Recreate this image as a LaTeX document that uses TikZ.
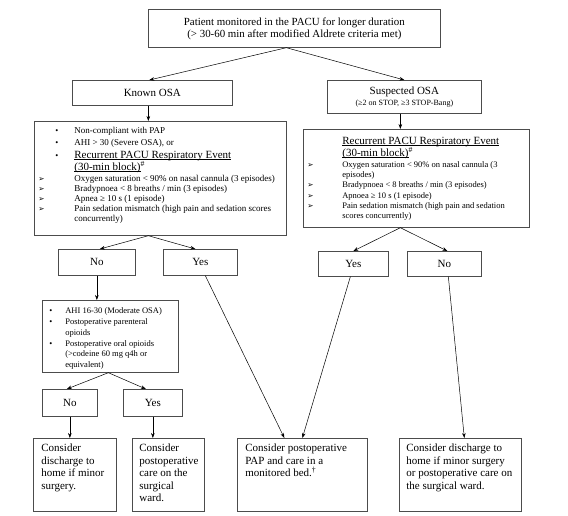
\documentclass[tikz,border=0pt]{standalone}
\usepackage{fontspec}
\setmainfont{Liberation Serif}
\newfontfamily\djv{DejaVu Sans}
\usetikzlibrary{arrows.meta}
\definecolor{boxc}{gray}{0.3}
\newcommand\Lyn[3]{{\fontsize{#1}{#2}\selectfont\noindent\mbox{#3}\par}}
\newcommand\amark{{\djv\fontsize{7.5}{7.5}\selectfont ➢}}
\newcommand\bul{{\fontsize{8.5}{10}\selectfont •}}
\newcommand\Ul[1]{\setbox0=\hbox{#1}\rlap{\rule[-1.6pt]{\wd0}{0.5pt}}\box0}
\newcommand\Pbox[3]{\parbox[c][#2][t]{#1}{\lineskiplimit=-100pt\parskip=0pt #3}}
\tikzset{
  bx/.style={draw=boxc, line width=0.7pt, inner sep=0pt, anchor=north west},
  cbx/.style={bx, align=center, font={\fontsize{11}{12}\selectfont}},
  arr/.style={-{Stealth[length=5pt,width=3.6pt]}, line width=0.5pt, black},
}
\begin{document}
\begin{tikzpicture}[x=1pt,y=-1pt]
\useasboundingbox[fill=white] (0,0) rectangle (568,516);

% top
\node[cbx, minimum width=292pt, minimum height=38pt, font={\fontsize{10.9}{12}\selectfont}] (top) at (148,9)
  {Patient monitored in the PACU for longer duration\\(> 30-60 min after modified Aldrete criteria met)};
\node[cbx, minimum width=160pt, minimum height=25pt] (kosa) at (72,80) {Known OSA};
\node[cbx, minimum width=154pt, minimum height=33pt] (sosa) at (327,80)
  {Suspected OSA\\[-1pt]{\fontsize{8}{10}\selectfont (≥2 on STOP, ≥3 STOP-Bang)}};

% left bullet box
\node[bx] (lb) at (34,121) {\Pbox{252pt}{114pt}{%
\Lyn{9}{12}{\rule{0pt}{12pt}\hspace*{21pt}\makebox[19pt][l]{\bul}Non-compliant with PAP}
\Lyn{9}{12}{\hspace*{21pt}\makebox[19pt][l]{\bul}AHI > 30 (Severe OSA), or}
\Lyn{11}{13}{\hspace*{21pt}\makebox[19pt][l]{\bul}\Ul{Recurrent PACU Respiratory Event}}
\Lyn{11}{12}{\hspace*{40pt}\Ul{(30-min block)}\textsuperscript{\#}}
\Lyn{9}{11.5}{\hspace*{4pt}\makebox[36pt][l]{\amark}Oxygen saturation < 90\% on nasal cannula (3 episodes)}
\Lyn{9}{10}{\hspace*{4pt}\makebox[36pt][l]{\amark}Bradypnoea < 8 breaths / min (3 episodes)}
\Lyn{9}{10}{\hspace*{4pt}\makebox[36pt][l]{\amark}Apnea ≥ 10 s (1 episode)}
\Lyn{9}{10}{\hspace*{4pt}\makebox[36pt][l]{\amark}Pain sedation mismatch (high pain and sedation scores}
\Lyn{9}{10}{\hspace*{40pt}concurrently)}}};

% right bullet box
\node[bx] (rb) at (303,129) {\Pbox{226pt}{98pt}{%
\Lyn{11}{13}{\rule{0pt}{15pt}\hspace*{39pt}\Ul{Recurrent PACU Respiratory Event}}
\Lyn{11}{12}{\hspace*{39pt}\Ul{(30-min block)}\textsuperscript{\#}}
\Lyn{8.5}{11}{\hspace*{4pt}\makebox[35pt][l]{\amark}Oxygen saturation < 90\% on nasal cannula (3}
\Lyn{8.5}{10}{\hspace*{39pt}episodes)}
\Lyn{8.5}{10.5}{\hspace*{4pt}\makebox[35pt][l]{\amark}Bradypnoea < 8 breaths / min (3 episodes)}
\Lyn{8.5}{10.5}{\hspace*{4pt}\makebox[35pt][l]{\amark}Apnoea ≥ 10 s (1 episode)}
\Lyn{8.5}{10.5}{\hspace*{4pt}\makebox[35pt][l]{\amark}Pain sedation mismatch (high pain and sedation}
\Lyn{8.5}{10}{\hspace*{39pt}scores concurrently)}}};

% yes/no row 1
\node[cbx, minimum width=77pt, minimum height=26pt] (n1) at (58,249) {No};
\node[cbx, minimum width=74pt, minimum height=26pt] (y1) at (163,249) {Yes};
\node[cbx, minimum width=70pt, minimum height=25pt] (y2) at (318,251) {Yes};
\node[cbx, minimum width=74pt, minimum height=25pt] (n2) at (407,251) {No};

% moderate box
\node[bx] (mod) at (42,300) {\Pbox{136pt}{72pt}{%
\Lyn{8.5}{11}{\rule{0pt}{13pt}\hspace*{7pt}\makebox[16pt][l]{\bul}AHI 16-30 (Moderate OSA)}
\Lyn{8.5}{11}{\hspace*{7pt}\makebox[16pt][l]{\bul}Postoperative parenteral}
\Lyn{8.5}{11}{\hspace*{23pt}opioids}
\Lyn{8.5}{11}{\hspace*{7pt}\makebox[16pt][l]{\bul}Postoperative oral opioids}
\Lyn{8.5}{10.5}{\hspace*{23pt}(>codeine 60 mg q4h or}
\Lyn{8.5}{10.5}{\hspace*{23pt}equivalent)}}};

\node[cbx, minimum width=55pt, minimum height=27pt] (n3) at (42,389) {No};
\node[cbx, minimum width=59pt, minimum height=27pt] (y3) at (123,389) {Yes};

% bottom boxes
\node[bx] (A) at (33,438) {\Pbox{83pt}{73pt}{%
\Lyn{11}{12.5}{\rule{0pt}{13.5pt}\hspace*{8pt}Consider}
\Lyn{11}{12.5}{\hspace*{8pt}discharge to}
\Lyn{11}{12.5}{\hspace*{8pt}home if minor}
\Lyn{11}{12.5}{\hspace*{8pt}surgery.}}};
\node[bx] (B) at (132,438) {\Pbox{72pt}{73pt}{%
\Lyn{11}{12.5}{\rule{0pt}{13.5pt}\hspace*{7pt}Consider}
\Lyn{11}{12.5}{\hspace*{7pt}postoperative}
\Lyn{11}{12.5}{\hspace*{7pt}care on the}
\Lyn{11}{12.5}{\hspace*{7pt}surgical}
\Lyn{11}{12.5}{\hspace*{7pt}ward.}}};
\node[bx] (C) at (237,438) {\Pbox{130pt}{73pt}{%
\Lyn{11}{12.5}{\rule{0pt}{13.5pt}\hspace*{8pt}Consider postoperative}
\Lyn{11}{12.5}{\hspace*{8pt}PAP and care in a}
\Lyn{11}{12.5}{\hspace*{8pt}monitored bed.\textsuperscript{†}}}};
\node[bx] (D) at (399,438) {\Pbox{122pt}{73pt}{%
\Lyn{11}{12.5}{\rule{0pt}{13.5pt}\hspace*{7pt}Consider discharge to}
\Lyn{11}{12.5}{\hspace*{7pt}home if minor surgery}
\Lyn{11}{12.5}{\hspace*{7pt}or postoperative care on}
\Lyn{11}{12.5}{\hspace*{7pt}the surgical ward.}}};

% connectors
\coordinate (t0) at ([xshift=-8pt]top.south);
\draw[arr] (t0) -- ([xshift=-3pt]kosa.north);
\draw[arr] (t0) -- (sosa.north);
\coordinate (k1) at ([xshift=-4pt]kosa.south);
\draw[arr] (k1) -- (k1 |- lb.north);
\coordinate (s1) at ([xshift=-4pt]sosa.south);
\draw[arr] (s1) -- (s1 |- rb.north);
\coordinate (l0) at (k1 |- lb.south);
\draw[arr] (l0) -- ([xshift=3pt]n1.north);
\draw[arr] (l0) -- ([xshift=-5pt]y1.north);
\coordinate (r0) at (s1 |- rb.south);
\draw[arr] (r0) -- (y2.north);
\draw[arr] (r0) -- ([xshift=3pt]n2.north);
\draw[arr] (n1.south) -- (n1.south |- mod.north);
\coordinate (m0) at ([xshift=-2pt]mod.south);
\draw[arr] (m0) -- ([xshift=-3pt]n3.north);
\draw[arr] (m0) -- ([xshift=-7pt]y3.north);
\draw[arr] (n3.south) -- (n3.south |- A.north);
\draw[arr] (y3.south) -- (y3.south |- B.north);
\draw[arr] ([xshift=5pt]y1.south) -- ([xshift=-18pt]C.north);
\draw[arr] ([xshift=-3pt]y2.south) -- (C.north);
\draw[arr] ([xshift=4pt]n2.south) -- ([xshift=4pt]D.north);
\end{tikzpicture}
\end{document}
